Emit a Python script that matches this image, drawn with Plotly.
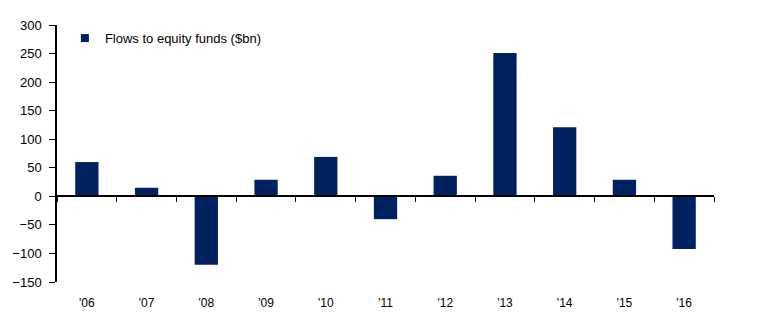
import plotly.graph_objects as go

years = ["'06", "'07", "'08", "'09", "'10", "'11", "'12", "'13", "'14", "'15", "'16"]
flows = [60, 15, -120, 29, 69, -40, 36, 251, 121, 29, -92]
y_ticks = [-150, -100, -50, 0, 50, 100, 150, 200, 250, 300]
series_name = "Flows to equity funds ($bn)"

y_min, y_max = -150, 300
zero_pos = (0 - y_min) / (y_max - y_min)
x_range = [-0.5, len(years) - 0.5]
navy = "#00215F"

fig = go.Figure()
fig.add_trace(go.Bar(
    x=years, y=flows, name=series_name, showlegend=False,
    marker=dict(color=navy, line=dict(width=0)),
    width=0.39, xaxis="x", yaxis="y",
))
fig.add_trace(go.Scatter(
    x=years, y=flows, mode="markers", marker=dict(opacity=0),
    showlegend=False, hoverinfo="skip", xaxis="x2", yaxis="y",
))
# legend entry with a small square swatch
fig.add_trace(go.Scatter(
    x=[None], y=[None], mode="markers", name=series_name,
    marker=dict(symbol="square", size=8, color=navy),
    xaxis="x", yaxis="y",
))

font = dict(family="Liberation Sans, Arial, sans-serif", size=13, color="#000000")
fig.update_layout(
    width=775, height=325,
    margin=dict(l=57, r=61, t=25, b=43),
    paper_bgcolor="white", plot_bgcolor="white",
    font=font,
    showlegend=True,
    legend=dict(x=0.012, y=0.949, xanchor="left", yanchor="middle",
                bgcolor="rgba(0,0,0,0)", font=dict(size=13),
                itemwidth=30),
    xaxis=dict(
        type="category", range=x_range, anchor="free", position=zero_pos,
        showline=True, linecolor="#000000", linewidth=1.5,
        ticks="outside", tickson="boundaries", ticklen=5, tickcolor="#000000",
        showticklabels=False, showgrid=False, zeroline=False,
    ),
    xaxis2=dict(
        type="category", range=x_range, overlaying="x", anchor="y", side="bottom",
        showline=False, ticks="outside", ticklen=10, tickcolor="rgba(0,0,0,0)",
        showticklabels=True, showgrid=False, zeroline=False,
        tickfont=dict(size=12),
    ),
    yaxis=dict(
        range=[y_min, y_max], tickvals=y_ticks,
        showline=True, linecolor="#000000", linewidth=1.5,
        ticks="outside", ticklen=6, tickcolor="#000000",
        ticklabelstandoff=5,
        showgrid=False, zeroline=False, tickfont=dict(size=13),
    ),
    bargap=0.6,
)

fig.write_html("out.html")
